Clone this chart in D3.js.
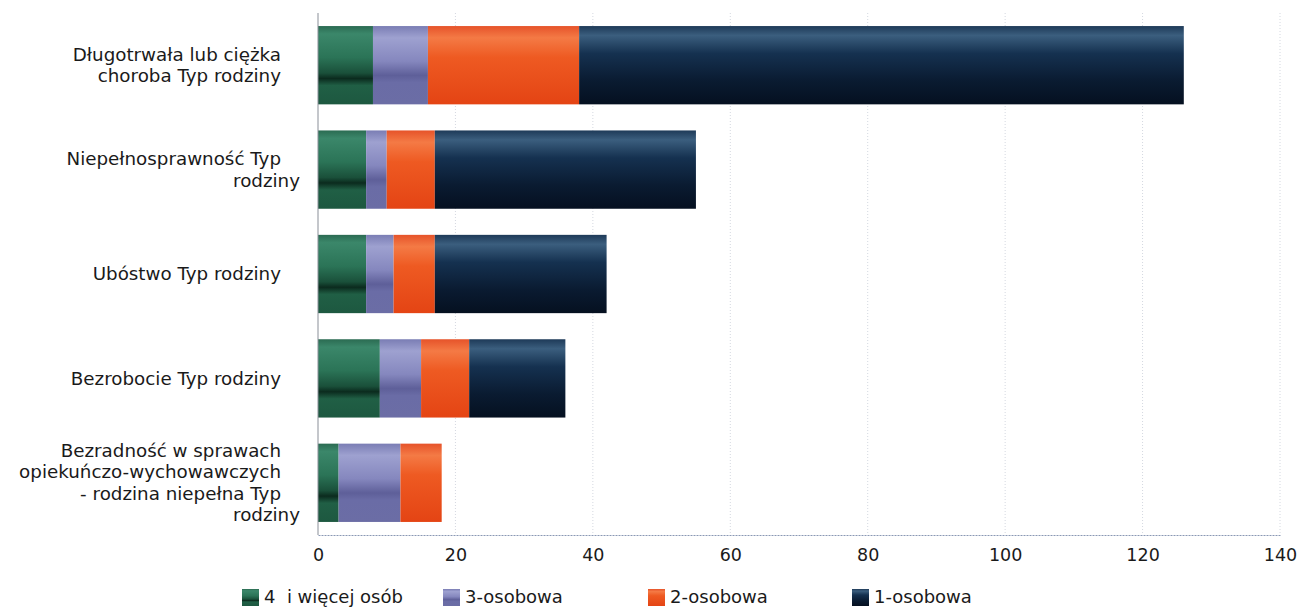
<!DOCTYPE html>
<html>
<head>
<meta charset="utf-8">
<script src="https://cdn.jsdelivr.net/npm/d3@7"></script>
<style>
  html, body { margin: 0; padding: 0; background: #ffffff; }
  svg { display: block; }
  text { font-family: "DejaVu Sans", sans-serif; fill: #1a1a1a; }
</style>
</head>
<body>
<svg id="chart" width="1299" height="611"></svg>
<script>
// ---- data ----
const categories = [
  "Długotrwała lub ciężka choroba Typ rodziny",
  "Niepełnosprawność Typ rodziny",
  "Ubóstwo Typ rodziny",
  "Bezrobocie Typ rodziny",
  "Bezradność w sprawach opiekuńczo-wychowawczych - rodzina niepełna Typ rodziny"
];
const categoryLines = [
  ["Długotrwała lub ciężka", "choroba Typ rodziny"],
  ["Niepełnosprawność Typ", "rodziny"],
  ["Ubóstwo Typ rodziny"],
  ["Bezrobocie Typ rodziny"],
  ["Bezradność w sprawach", "opiekuńczo-wychowawczych", "- rodzina niepełna Typ", "rodziny"]
];
const seriesNames = ["4  i więcej osób", "3-osobowa", "2-osobowa", "1-osobowa"];
const s4plus = [8, 7, 7, 9, 3];
const s3 = [8, 3, 4, 6, 9];
const s2 = [22, 7, 6, 7, 6];
const s1 = [88, 38, 25, 14, 0];
const xTicks = [0, 20, 40, 60, 80, 100, 120, 140];

// ---- layout ----
const svg = d3.select("#chart");
const mLeft = 318, mRight = 1280, mTop = 13, mBottom = 535;

const x = d3.scaleLinear().domain([0, 140]).range([mLeft, mRight]);
const y = d3.scaleBand().domain(categories).range([mTop, mBottom])
  .paddingInner(0.25).paddingOuter(0.125);

// gradients
const gradDefs = [
  { id: "g4", stops: [[0,"#2b6b52"],[0.1,"#3b876a"],[0.4,"#2b7457"],[0.6,"#1a503a"],[0.67,"#0b2b1e"],[0.76,"#205f45"],[1,"#1d5840"]] },
  { id: "g3", stops: [[0,"#7a7db4"],[0.15,"#9ea1d0"],[0.45,"#8587be"],[0.63,"#5e5f99"],[0.72,"#6a6ca6"],[1,"#6b6da5"]] },
  { id: "g2", stops: [[0,"#e6532a"],[0.15,"#f47a45"],[0.4,"#ee5a22"],[1,"#e44414"]] },
  { id: "g1", stops: [[0,"#1e3a58"],[0.12,"#3b5e7e"],[0.35,"#153150"],[0.7,"#0a1b31"],[1,"#051020"]] }
];
const defs = svg.append("defs");
gradDefs.forEach(g => {
  const lg = defs.append("linearGradient").attr("id", g.id)
    .attr("x1", 0).attr("y1", 0).attr("x2", 0).attr("y2", 1);
  g.stops.forEach(s => lg.append("stop").attr("offset", s[0]).attr("stop-color", s[1]));
});
const fills = ["url(#g4)", "url(#g3)", "url(#g2)", "url(#g1)"];

// gridlines
svg.append("g").selectAll("line").data(xTicks.slice(1)).join("line")
  .attr("x1", d => x(d)).attr("x2", d => x(d))
  .attr("y1", mTop).attr("y2", mBottom)
  .attr("stroke", "#d4d8e0").attr("stroke-width", 1).attr("stroke-dasharray", "1,2");

// stacked data
const rows = categories.map((c, i) => ({ cat: c, v: [s4plus[i], s3[i], s2[i], s1[i]] }));
const keys = [0, 1, 2, 3];
const stack = d3.stack().keys(keys).value((d, k) => d.v[k]);
const stacked = stack(rows);

svg.append("g").selectAll("g").data(stacked).join("g")
  .attr("fill", (d, i) => fills[i])
  .selectAll("rect").data(d => d).join("rect")
  .attr("x", d => x(d[0]))
  .attr("width", d => Math.max(0, x(d[1]) - x(d[0])))
  .attr("y", d => y(d.data.cat))
  .attr("height", y.bandwidth());

// left axis line
svg.append("line").attr("x1", mLeft).attr("x2", mLeft).attr("y1", mTop).attr("y2", mBottom)
  .attr("stroke", "#8a8f98").attr("stroke-width", 1);

// bottom axis
const xAxis = d3.axisBottom(x).tickValues(xTicks).tickSize(0).tickPadding(14);
const gx = svg.append("g").attr("transform", `translate(0,${mBottom})`).call(xAxis);
gx.select(".domain").attr("stroke", "#8a98b4").attr("stroke-dasharray", "2,1");
gx.selectAll("text").style("font-family", "DejaVu Sans, sans-serif")
  .style("font-size", "17.5px").attr("fill", "#1a1a1a");

// category labels
const lineH = 21.5;
const yl = svg.append("g");
categories.forEach((c, i) => {
  const lines = categoryLines[i];
  const cy = y(c) + y.bandwidth() / 2;
  const y0 = cy - (lines.length - 1) * lineH / 2;
  lines.forEach((ln, j) => {
    yl.append("text")
      .attr("x", ln === "rodziny" ? mLeft - 18 : mLeft - 37)
      .attr("y", y0 + j * lineH)
      .attr("dy", "0.35em")
      .attr("text-anchor", "end")
      .style("font-size", "18.3px")
      .text(ln);
  });
});

// legend
const legendX = [242, 443, 648, 852];
const lgd = svg.append("g");
seriesNames.forEach((n, i) => {
  lgd.append("rect").attr("x", legendX[i]).attr("y", 589).attr("width", 17).attr("height", 17)
    .attr("fill", fills[i]);
  lgd.append("text").attr("x", legendX[i] + 22).attr("y", 597).attr("dy", "0.35em")
    .style("font-size", "18px").style("white-space", "pre").text(n);
});
</script>
</body>
</html>
